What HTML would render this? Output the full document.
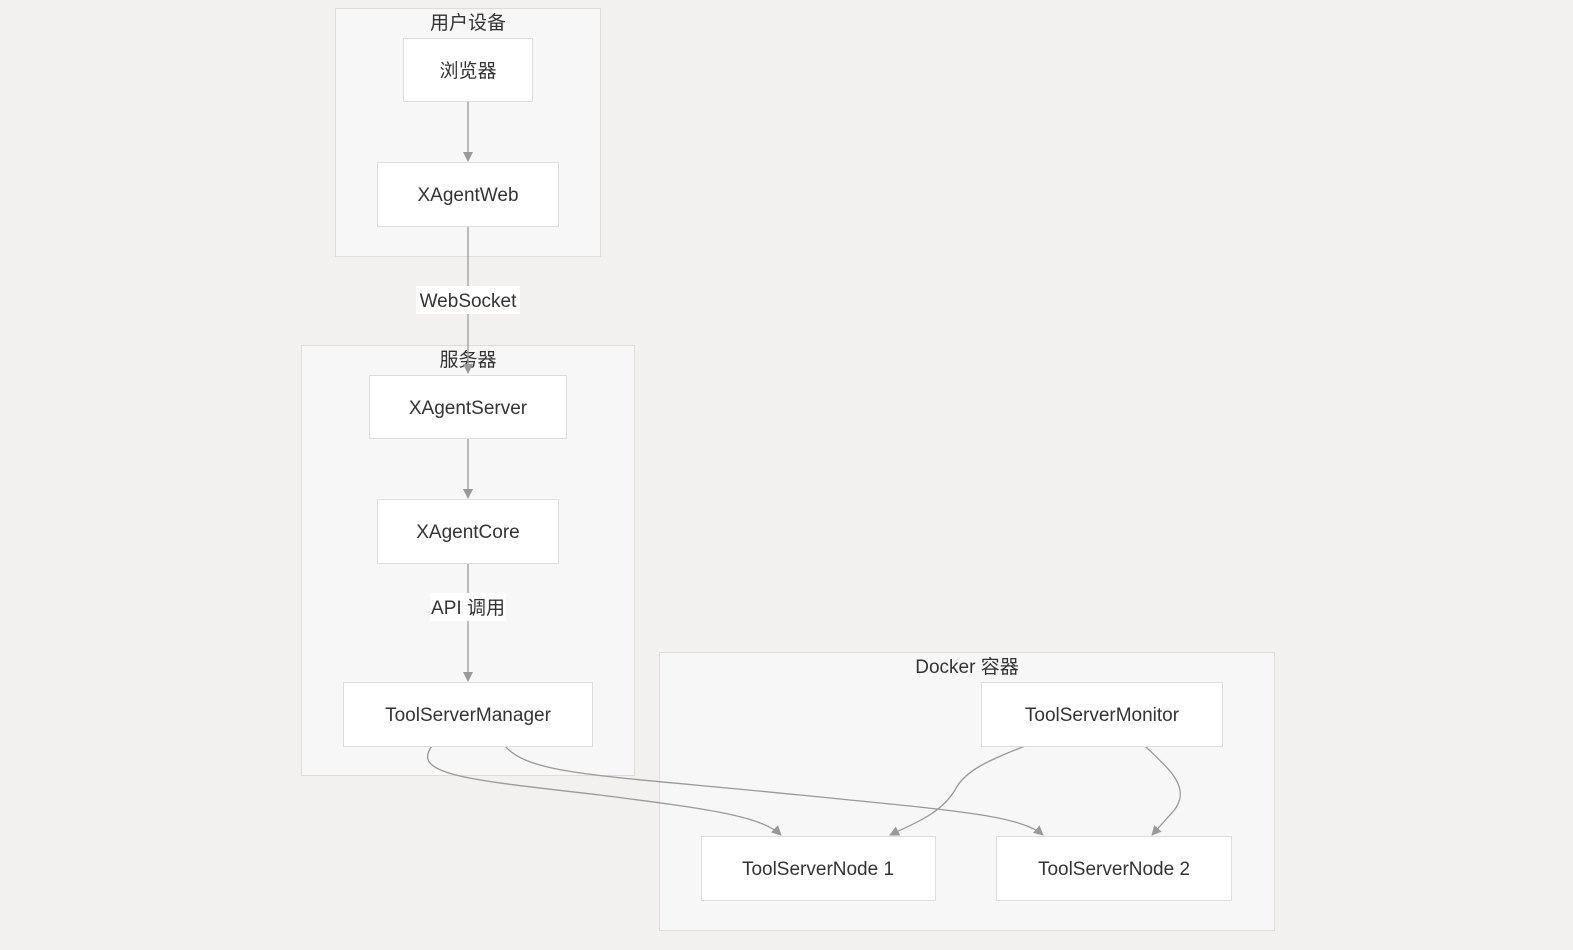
<!DOCTYPE html>
<html><head><meta charset="utf-8"><style>
html,body{margin:0;padding:0;background:#f2f1ef;}
text{font-family:"Liberation Sans","Noto Sans CJK SC",sans-serif;fill:#333;font-size:19px;}
</style></head><body>
<svg width="1573" height="945" viewBox="0 0 1573 945" xmlns="http://www.w3.org/2000/svg">
<defs><marker id="a" markerWidth="10" markerHeight="10" refX="9" refY="5" orient="auto" markerUnits="userSpaceOnUse"><path d="M0,0 L10,5 L0,10 z" fill="#999"/></marker></defs>
<rect x="335.5" y="8.5" width="265" height="248" fill="#f7f7f7" stroke="#ddd"/>
<rect x="301.5" y="345.5" width="333" height="430" fill="#f7f7f7" stroke="#ddd"/>
<rect x="659.5" y="652.5" width="615" height="278" fill="#f7f7f7" stroke="#ddd"/>
<text x="468" y="29" text-anchor="middle">用户设备</text>
<text x="468" y="366" text-anchor="middle">服务器</text>
<text x="967" y="673" text-anchor="middle">Docker 容器</text>
<g fill="none" stroke="#999" stroke-width="1.3">
<path d="M468,101 L468,161" marker-end="url(#a)"/>
<path d="M468,226 L468,373" marker-end="url(#a)"/>
<path d="M468,438 L468,498" marker-end="url(#a)"/>
<path d="M468,563 L468,681" marker-end="url(#a)"/>
<path d="M432,746 C410,775 470,780 600,795 C700,808 760,815 781,835" marker-end="url(#a)"/>
<path d="M505,746 C530,775 600,775 800,795 C950,810 1020,815 1043,835" marker-end="url(#a)"/>
<path d="M1025,746 C990,760 965,770 955,790 C940,815 910,825 890,835" marker-end="url(#a)"/>
<path d="M1145,746 C1170,770 1195,790 1170,815 L1152,835" marker-end="url(#a)"/>
</g>
<rect x="416" y="286" width="104" height="28" fill="#fff"/>
<text x="468" y="307" text-anchor="middle">WebSocket</text>
<rect x="430" y="593" width="76" height="28" fill="#fff"/>
<text x="468" y="614" text-anchor="middle">API 调用</text>
<g fill="#fff" stroke="#ddd">
<rect x="403.5" y="38.5" width="129" height="63"/>
<rect x="377.5" y="162.5" width="181" height="64"/>
<rect x="369.5" y="375.5" width="197" height="63"/>
<rect x="377.5" y="499.5" width="181" height="64"/>
<rect x="343.5" y="682.5" width="249" height="64"/>
<rect x="981.5" y="682.5" width="241" height="64"/>
<rect x="701.5" y="836.5" width="234" height="64"/>
<rect x="996.5" y="836.5" width="235" height="64"/>
</g>
<text x="468" y="77" text-anchor="middle">浏览器</text>
<text x="468" y="201" text-anchor="middle">XAgentWeb</text>
<text x="468" y="414" text-anchor="middle">XAgentServer</text>
<text x="468" y="538" text-anchor="middle">XAgentCore</text>
<text x="468" y="721" text-anchor="middle">ToolServerManager</text>
<text x="1102" y="721" text-anchor="middle">ToolServerMonitor</text>
<text x="818" y="875" text-anchor="middle">ToolServerNode 1</text>
<text x="1114" y="875" text-anchor="middle">ToolServerNode 2</text>
</svg>
</body></html>
